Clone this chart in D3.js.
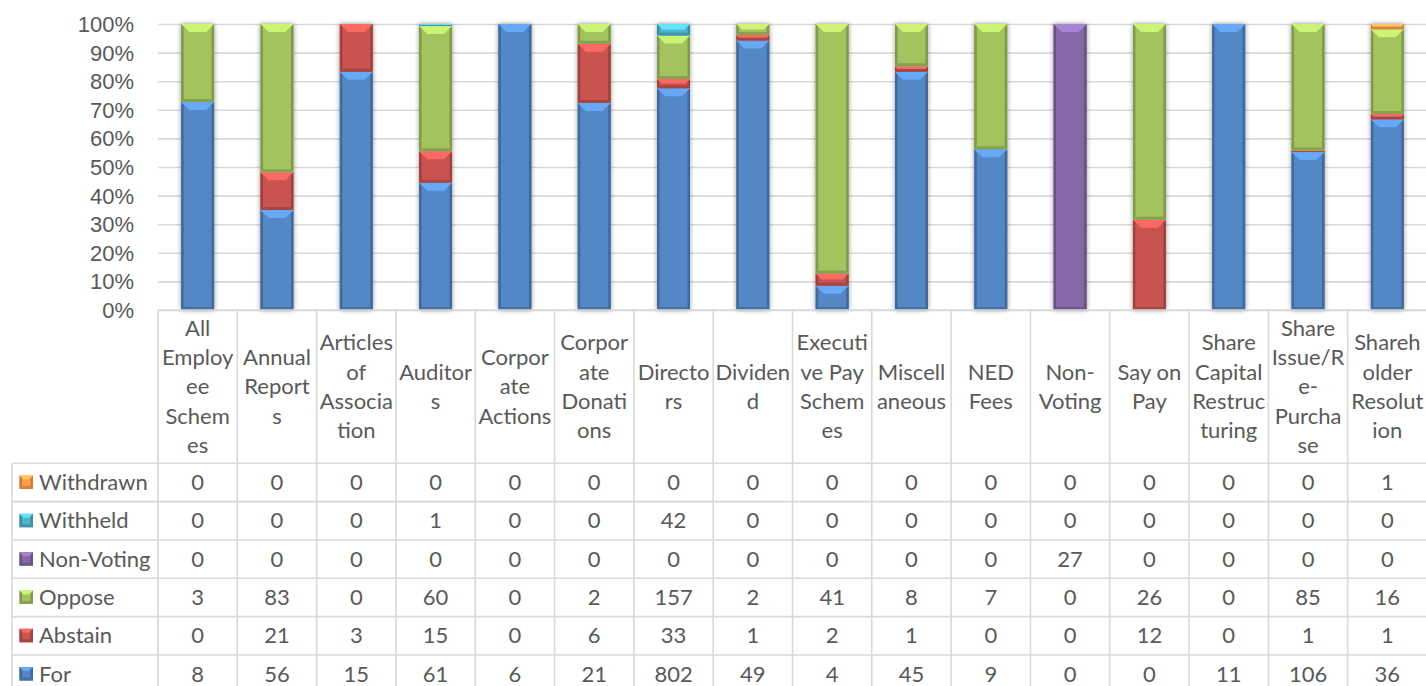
<!DOCTYPE html>
<html>
<head>
<meta charset="utf-8">
<script src="https://cdn.jsdelivr.net/npm/d3@7"></script>
<style>
	html, body { margin: 0; padding: 0; background: #fff; }
	svg { display: block; font-family: Lato, "Open Sans", sans-serif; }
	.tick text, .cell, .head, .legend { fill: #595959; }
</style>
</head>
<body>
<div id="chart"></div>
<script>
var categories = [
	'All Employee Schemes', 'Annual Reports', 'Articles of Association', 'Auditors',
	'Corporate Actions', 'Corporate Donations', 'Directors', 'Dividend',
	'Executive Pay Schemes', 'Miscellaneous', 'NED Fees', 'Non-Voting',
	'Say on Pay', 'Share Capital Restructuring', 'Share Issue/Re-Purchase', 'Shareholder Resolution'
];
// how the header cells wrap in the reference
var headLines = [
	['All', 'Employ', 'ee', 'Schem', 'es'], ['Annual', 'Report', 's'], ['Articles', 'of', 'Associa', 'tion'], ['Auditor', 's'],
	['Corpor', 'ate', 'Actions'], ['Corpor', 'ate', 'Donati', 'ons'], ['Directo', 'rs'], ['Dividen', 'd'],
	['Executi', 've Pay', 'Schem', 'es'], ['Miscell', 'aneous'], ['NED', 'Fees'], ['Non-', 'Voting'],
	['Say on', 'Pay'], ['Share', 'Capital', 'Restruc', 'turing'], ['Share', 'Issue/R', 'e-', 'Purcha', 'se'], ['Shareh', 'older', 'Resolut', 'ion']
];
var seriesNames = ['For', 'Abstain', 'Oppose', 'Non-Voting', 'Withheld', 'Withdrawn'];
var seriesColors = ['#4f81bd', '#c0504d', '#9bbb59', '#8064a2', '#4bacc6', '#f79646'];
var forVotes     = [8, 56, 15, 61, 6, 21, 802, 49, 4, 45, 9, 0, 0, 11, 106, 36];
var abstain      = [0, 21, 3, 15, 0, 6, 33, 1, 2, 1, 0, 0, 12, 0, 1, 1];
var oppose       = [3, 83, 0, 60, 0, 2, 157, 2, 41, 8, 7, 0, 26, 0, 85, 16];
var nonVoting    = [0, 0, 0, 0, 0, 0, 0, 0, 0, 0, 0, 27, 0, 0, 0, 0];
var withheld     = [0, 0, 0, 1, 0, 0, 42, 0, 0, 0, 0, 0, 0, 0, 0, 0];
var withdrawn    = [0, 0, 0, 0, 0, 0, 0, 0, 0, 0, 0, 0, 0, 0, 0, 1];
var yTicks = [0, 0.1, 0.2, 0.3, 0.4, 0.5, 0.6, 0.7, 0.8, 0.9, 1];

(function() {

var W = 1426, H = 686;
var plotL = 158, plotR = 1427, plotT = 24, plotB = 310;
var headB = 463.3, rowH = 38.33, legL = 12;
var fontSize = 22, grid = '#d9d9d9';

var values = [forVotes, abstain, oppose, nonVoting, withheld, withdrawn];
var rows = categories.map(function(c, i) {
	var r = { cat: c };
	seriesNames.forEach(function(s, k) { r[s] = values[k][i]; });
	return r;
});
var stacked = d3.stack().keys(seriesNames).offset(d3.stackOffsetExpand)(rows);

var x = d3.scaleBand().domain(categories).range([plotL, plotR]).paddingInner(0.584).paddingOuter(0.292);
var col = d3.scaleBand().domain(categories).range([plotL, plotR]);
var y = d3.scaleLinear().domain([0, 1]).range([plotB, plotT]);

var svg = d3.select('#chart').append('svg')
	.attr('width', W)
	.attr('height', H)
	.style('font-size', fontSize + 'px');

var defs = svg.append('defs');
defs.append('filter')
	.attr('id', 'shadow')
	.attr('x', '-30%').attr('y', '-10%').attr('width', '160%').attr('height', '120%')
	.call(function(f) {
		f.append('feGaussianBlur').attr('in', 'SourceAlpha').attr('stdDeviation', 2.5).attr('result', 'b');
		f.append('feComponentTransfer').attr('in', 'b').attr('result', 's')
			.append('feFuncA').attr('type', 'linear').attr('slope', 0.4);
		f.append('feMerge').call(function(m) {
			m.append('feMergeNode').attr('in', 's');
			m.append('feMergeNode').attr('in', 'SourceGraphic');
		});
	});

// gridlines
svg.append('g')
	.attr('transform', 'translate(' + plotL + ',0)')
	.call(d3.axisLeft(y).tickValues(yTicks).tickSize(-(plotR - plotL)).tickFormat(''))
	.call(function(g) {
		g.select('.domain').remove();
		g.selectAll('.tick line').attr('stroke', grid).attr('stroke-width', 1.6);
	});

// y labels
svg.append('g')
	.attr('transform', 'translate(' + (plotL - 24) + ',0)')
	.call(d3.axisLeft(y).tickValues(yTicks).tickSize(0).tickPadding(0).tickFormat(d3.format('.0%')))
	.call(function(g) {
		g.select('.domain').remove();
		g.selectAll('.tick text').attr('font-size', fontSize).attr('font-family', null).attr('dy', '0.34em');
	});

// bevelled segment
function bevel(g, x0, y0, w, h, color, size) {
	var c = d3.color(color);
	var b = Math.min(size || 8, h / 2, w / 2), e = Math.min(2.5, w / 2);
	var bb = Math.min(b, 3), se = Math.min(e, b);
	g.append('rect').attr('x', x0).attr('y', y0).attr('width', w).attr('height', h).attr('fill', c.brighter(0.12));
	// sides
	g.append('path').attr('fill', c.darker(0.55))
		.attr('d', 'M' + x0 + ',' + y0 + 'l' + e + ',' + se + 'V' + (y0 + h - se) + 'L' + x0 + ',' + (y0 + h) + 'Z');
	g.append('path').attr('fill', c.darker(0.55))
		.attr('d', 'M' + (x0 + w) + ',' + y0 + 'l' + (-e) + ',' + se + 'V' + (y0 + h - se) + 'L' + (x0 + w) + ',' + (y0 + h) + 'Z');
	// top
	g.append('path').attr('fill', c.brighter(0.75))
		.attr('d', 'M' + x0 + ',' + y0 + 'H' + (x0 + w) + 'l' + (-b) + ',' + b + 'H' + (x0 + b) + 'Z');
	// bottom
	g.append('path').attr('fill', c.darker(0.4))
		.attr('d', 'M' + x0 + ',' + (y0 + h) + 'H' + (x0 + w) + 'l' + (-bb) + ',' + (-bb) + 'H' + (x0 + bb) + 'Z');
}

var bars = svg.append('g').attr('class', 'bars');
categories.forEach(function(c, i) {
	var g = bars.append('g').attr('filter', 'url(#shadow)');
	stacked.forEach(function(layer, k) {
		var d = layer[i];
		var h = y(d[0]) - y(d[1]);
		if(!(h > 0.2)) return;
		bevel(g, x(c), y(d[1]), x.bandwidth(), h, seriesColors[k]);
	});
});

// table
var table = svg.append('g').attr('class', 'table');
var lines = table.append('g').attr('stroke', grid).attr('stroke-width', 1.6);
lines.append('line').attr('x1', plotL).attr('x2', W).attr('y1', plotB).attr('y2', plotB);
d3.range(7).forEach(function(k) {
	var yy = headB + k * rowH;
	lines.append('line').attr('x1', legL).attr('x2', W).attr('y1', yy).attr('y2', yy);
});
categories.forEach(function(c) {
	lines.append('line').attr('x1', col(c)).attr('x2', col(c)).attr('y1', plotB).attr('y2', H);
});
lines.append('line').attr('x1', legL).attr('x2', legL).attr('y1', headB).attr('y2', H);

// header
var lineH = 29.3;
categories.forEach(function(c, i) {
	var ls = headLines[i];
	var cy = (plotB + headB) / 2 - (ls.length - 1) * lineH / 2;
	var t = table.append('text').attr('class', 'head').attr('text-anchor', 'middle');
	ls.forEach(function(s, j) {
		t.append('tspan').attr('x', col(c) + col.bandwidth() / 2).attr('y', cy + j * lineH).attr('dy', '0.35em').text(s);
	});
});

// rows, top one is last series
var order = seriesNames.slice().reverse();
order.forEach(function(s, r) {
	var k = seriesNames.indexOf(s);
	var cy = headB + r * rowH + rowH / 2;
	var mk = table.append('g');
	bevel(mk, 19.5, cy - 7, 13.5, 13.5, seriesColors[k], 4);
	table.append('text').attr('class', 'legend').attr('x', 39).attr('y', cy).attr('dy', '0.35em').text(s);
	categories.forEach(function(c, i) {
		table.append('text').attr('class', 'cell')
			.attr('x', col(c) + col.bandwidth() / 2)
			.attr('y', cy)
			.attr('dy', '0.35em')
			.attr('text-anchor', 'middle')
			.text(values[k][i]);
	});
});

})();
</script>
</body>
</html>
